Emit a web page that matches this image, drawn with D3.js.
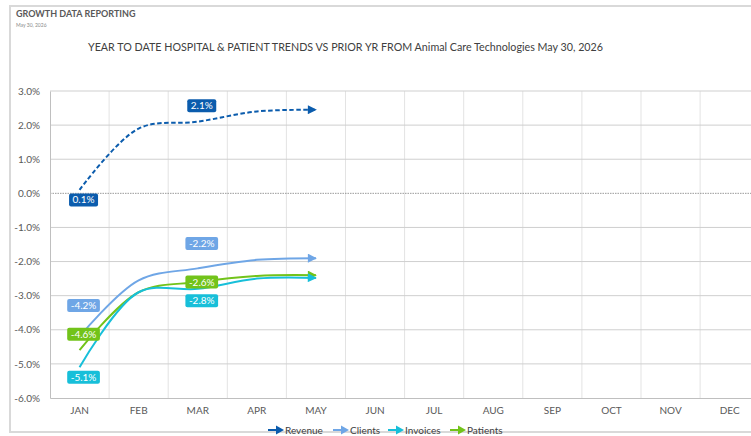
<!DOCTYPE html>
<html><head><meta charset="utf-8">
<script src="https://cdn.jsdelivr.net/npm/d3@7"></script>
<style>
html,body{margin:0;padding:0;background:#fff;}
svg{display:block;font-family:Lato,"Open Sans",sans-serif;}
</style></head>
<body><svg id="c" width="751" height="436"></svg>
<script>
const months = ["JAN","FEB","MAR","APR","MAY","JUN","JUL","AUG","SEP","OCT","NOV","DEC"];
const yTicks = [3,2,1,0,-1,-2,-3,-4,-5,-6];
const seriesNames = ["Revenue","Clients","Invoices","Patients"];
const revenue  = [0.1, 1.9, 2.1, 2.4, 2.45];
const clients  = [-4.2, -2.55, -2.2, -1.95, -1.9];
const invoices = [-5.1, -2.9, -2.8, -2.5, -2.48];
const patients = [-4.6, -2.9, -2.6, -2.42, -2.4];
const labelMonths = ["JAN","MAR"];

const colors = {Revenue:"#0b5cad", Clients:"#6fa6e6", Invoices:"#17bfd9", Patients:"#72c31a"};
const dataBy = {Revenue:revenue, Clients:clients, Invoices:invoices, Patients:patients};
// label offsets (px) for JAN and MAR labels
const labelOff = {
  Revenue:{JAN:10, MAR:-16},
  Clients:{JAN:-31, MAR:-25},
  Invoices:{JAN:10, MAR:12},
  Patients:{JAN:-16, MAR:0}
};
const pct = d => d3.format(".1f")(d).replace("\u2212","-")+"%";

const svg = d3.select("#c");
const L = 50, T = 91, B = 398, W = 59.1*12;
const x = d3.scaleBand().domain(months).range([L, L+W]);
const y = d3.scaleLinear().domain([-6,3]).range([B,T]);

// outer frame
svg.append("rect").attr("x",10).attr("y",6).attr("width",760).attr("height",426)
  .attr("fill","none").attr("stroke","#d9d9d9").attr("stroke-width",2);

svg.append("text").attr("x",16).attr("y",17).attr("font-size",9).attr("font-weight","bold")
  .attr("fill","#595959").text("GROWTH DATA REPORTING");
svg.append("text").attr("x",16).attr("y",27).attr("font-size",5).attr("fill","#8a8a8a").text("May 30, 2026");

svg.append("text").attr("x",88).attr("y",51).attr("font-size",11.5)
  .attr("fill","#404040").attr("textLength",515).attr("lengthAdjust","spacingAndGlyphs")
  .text("YEAR TO DATE HOSPITAL & PATIENT TRENDS VS PRIOR YR FROM Animal Care Technologies May 30, 2026");

// vertical gridlines
const g = svg.append("g");
months.forEach((m,i)=>{ if(i>0) g.append("line").attr("x1",x(m)).attr("x2",x(m)).attr("y1",T).attr("y2",B)
  .attr("stroke","#e3e3e3").attr("stroke-width",1); });
g.append("line").attr("x1",L+W).attr("x2",L+W).attr("y1",T).attr("y2",B).attr("stroke","#e3e3e3");
// horizontal gridlines
yTicks.forEach(t=>{
  if(t===0){
    g.append("line").attr("x1",L).attr("x2",L+W).attr("y1",y(t)).attr("y2",y(t))
      .attr("stroke","#7f7f7f").attr("stroke-width",0.8).attr("stroke-dasharray","1.5,1");
  } else if(t!==-6){
    g.append("line").attr("x1",L).attr("x2",L+W).attr("y1",y(t)).attr("y2",y(t))
      .attr("stroke","#cfcfcf").attr("stroke-width",1);
  }
});

// axes
const ya = svg.append("g").attr("transform",`translate(${L},0)`)
  .call(d3.axisLeft(y).tickValues(yTicks).tickSize(0).tickPadding(10).tickFormat(pct));
ya.select(".domain").attr("stroke","#bfbfbf");
ya.selectAll("text").attr("font-size",10).attr("fill","#595959").attr("font-family","Lato,sans-serif");
const xa = svg.append("g").attr("transform",`translate(0,${B})`)
  .call(d3.axisBottom(x).tickSize(0).tickPadding(9));
xa.select(".domain").attr("stroke","#bfbfbf");
xa.selectAll("text").attr("font-size",10).attr("fill","#595959").attr("font-family","Lato,sans-serif");

// markers
const defs = svg.append("defs");
seriesNames.forEach(s=>{
  defs.append("marker").attr("id","arr-"+s).attr("markerUnits","userSpaceOnUse")
    .attr("viewBox","0 0 10 10").attr("markerWidth",10).attr("markerHeight",9)
    .attr("refX",9).attr("refY",5).attr("orient","auto")
    .append("path").attr("d","M0,0 L10,5 L0,10 z").attr("fill",colors[s]);
});

const line = d3.line().x((d,i)=>x(months[i])+x.bandwidth()/2).y(d=>y(d)).curve(d3.curveCatmullRom.alpha(0.5));
const order = ["Patients","Invoices","Clients","Revenue"];
order.forEach(s=>{
  svg.append("path").datum(dataBy[s]).attr("d",line).attr("fill","none")
    .attr("stroke",colors[s]).attr("stroke-width",2)
    .attr("stroke-dasharray", s==="Revenue" ? "4.5,2.5" : null)
    .attr("marker-end","url(#arr-"+s+")");
});

// data labels
seriesNames.forEach(s=>{
  labelMonths.forEach(m=>{
    const i = months.indexOf(m);
    const v = dataBy[s][i];
    const cx = x(m)+x.bandwidth()/2 + 4;
    const cy = y(v) + labelOff[s][m];
    const gg = svg.append("g");
    const t = gg.append("text").attr("x",cx).attr("y",cy).attr("dy","0.35em").attr("text-anchor","middle")
      .attr("font-size",10).attr("fill","#fff").text(pct(v));
    const w = t.node().getComputedTextLength()+7;
    gg.insert("rect","text").attr("x",cx-w/2).attr("y",cy-6.5).attr("width",w).attr("height",13)
      .attr("rx",2).attr("fill",colors[s]);
  });
});

// legend
const legX = [268,333,388,450];
seriesNames.forEach((s,i)=>{
  const lg = svg.append("g").attr("transform",`translate(${legX[i]},430)`);
  lg.append("line").attr("x1",0).attr("x2",9).attr("y1",0).attr("y2",0).attr("stroke",colors[s]).attr("stroke-width",2);
  lg.append("path").attr("d","M8,-4.5 L16,0 L8,4.5 z").attr("fill",colors[s]);
  lg.append("text").attr("x",17).attr("y",0).attr("dy","0.35em").attr("font-size",10).attr("fill","#404040").text(s);
});
</script></body></html>
